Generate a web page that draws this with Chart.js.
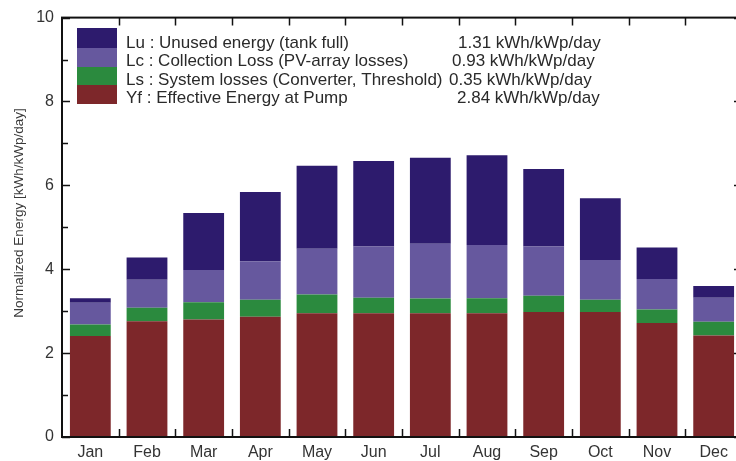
<!DOCTYPE html>
<html>
<head>
<meta charset="utf-8">
<script src="https://cdn.jsdelivr.net/npm/chart.js@4"></script>
<style>
  html, body { margin: 0; padding: 0; background: #fff; overflow: hidden; }
  .wrap { width: 750px; height: 461px; }
</style>
</head>
<body>
<div class="wrap"><canvas id="c" width="750" height="461" style="width:750px;height:461px"></canvas></div>
<script>
// Monthly normalized production (kWh/kWp/day), stacked from the bottom up.
const months = ["Jan", "Feb", "Mar", "Apr", "May", "Jun", "Jul", "Aug", "Sep", "Oct", "Nov", "Dec"];
const yfEnergy = [2.41, 2.76, 2.80, 2.87, 2.95, 2.95, 2.95, 2.95, 2.98, 2.98, 2.72, 2.42];
const lsLoss   = [0.27, 0.32, 0.41, 0.40, 0.45, 0.37, 0.35, 0.36, 0.39, 0.29, 0.32, 0.33];
const lcLoss   = [0.52, 0.67, 0.77, 0.92, 1.09, 1.22, 1.31, 1.27, 1.17, 0.95, 0.73, 0.57];
const luUnused = [0.11, 0.53, 1.36, 1.65, 1.98, 2.04, 2.05, 2.14, 1.85, 1.47, 0.75, 0.28];

// legend rows, top to bottom
const legendNames = [
  "Lu : Unused energy (tank full)",
  "Lc : Collection Loss (PV-array losses)",
  "Ls : System losses (Converter, Threshold)",
  "Yf : Effective Energy at Pump",
];
const legendValues = ["1.31 kWh/kWp/day", "0.93 kWh/kWp/day", "0.35 kWh/kWp/day", "2.84 kWh/kWp/day"];

const C_LU = "#2d1b6d";
const C_LC = "#66589e";
const C_LS = "#2b8a3e";
const C_YF = "#7d272a";
const FONT = "'Liberation Sans', Arial, sans-serif";

// frame, inward ticks, legend box and y title
const decor = {
  id: "decor",
  afterDatasetsDraw(chart) {
    const { ctx, chartArea: a, scales: { x, y } } = chart;
    ctx.save();
    ctx.strokeStyle = "#111";
    ctx.lineWidth = 2;
    ctx.strokeRect(a.left, a.top, a.right - a.left, a.bottom - a.top);

    ctx.lineWidth = 1.5;
    ctx.beginPath();
    y.ticks.forEach((t) => {
      const py = Math.round(y.getPixelForValue(t.value)) + 0.5;
      const len = t.value % 2 === 0 ? 8 : 6;
      ctx.moveTo(a.left, py); ctx.lineTo(a.left + len, py);
      ctx.moveTo(a.right, py); ctx.lineTo(a.right - len, py);
    });
    const half = (x.getPixelForValue(1) - x.getPixelForValue(0)) / 2;
    for (let i = 1; i < months.length; i++) {
      const px = Math.round(x.getPixelForValue(i) - half) + 0.5;
      ctx.moveTo(px, a.bottom); ctx.lineTo(px, a.bottom - 8);
      ctx.moveTo(px, a.top); ctx.lineTo(px, a.top + 8);
    }
    ctx.stroke();

    // legend
    const colors = [C_LU, C_LC, C_LS, C_YF];
    const bandTop = [28, 48, 67, 85, 104];
    colors.forEach((c, i) => {
      ctx.fillStyle = c;
      ctx.fillRect(77, bandTop[i], 40, bandTop[i + 1] - bandTop[i]);
    });
    ctx.fillStyle = "#2a2a2a";
    ctx.font = "17px " + FONT;
    ctx.textBaseline = "middle";
    ctx.textAlign = "left";
    const rowY = [43, 61.5, 80, 98.5];
    const valX = [458, 452, 449, 457];
    legendNames.forEach((s, i) => {
      ctx.fillText(s, 126, rowY[i]);
      ctx.fillText(legendValues[i], valX[i], rowY[i]);
    });

    // y title
    ctx.translate(19, 213);
    ctx.rotate(-Math.PI / 2);
    ctx.textAlign = "center";
    ctx.fillStyle = "#3a3a3a";
    ctx.font = "13.5px " + FONT;
    ctx.fillText("Normalized Energy [kWh/kWp/day]", 0, 0);
    ctx.restore();
  },
};

new Chart(document.getElementById("c"), {
  type: "bar",
  data: {
    labels: months,
    datasets: [
      { label: "Yf", data: yfEnergy, backgroundColor: C_YF },
      { label: "Ls", data: lsLoss, backgroundColor: C_LS },
      { label: "Lc", data: lcLoss, backgroundColor: C_LC },
      { label: "Lu", data: luUnused, backgroundColor: C_LU },
    ],
  },
  options: {
    responsive: false,
    animation: false,
    layout: { padding: { top: 16, right: 8, left: 0, bottom: 0 } },
    datasets: { bar: { categoryPercentage: 1, barPercentage: 0.72, borderWidth: 0 } },
    plugins: { legend: { display: false }, tooltip: { enabled: false } },
    scales: {
      x: {
        stacked: true,
        grid: { display: false, drawTicks: false },
        border: { display: false },
        ticks: { color: "#333", font: { size: 16, family: FONT }, padding: 6 },
        afterFit: (s) => { s.height = 24; },
      },
      y: {
        stacked: true,
        min: 0,
        max: 10,
        grid: { display: false, drawTicks: false },
        border: { display: false },
        ticks: {
          stepSize: 1,
          color: "#333",
          font: { size: 16, family: FONT },
          padding: 8,
          callback: (v) => (v % 2 === 0 ? v : ""),
        },
        afterFit: (s) => { s.width = 62; },
      },
    },
  },
  plugins: [decor],
});
</script>
</body>
</html>
